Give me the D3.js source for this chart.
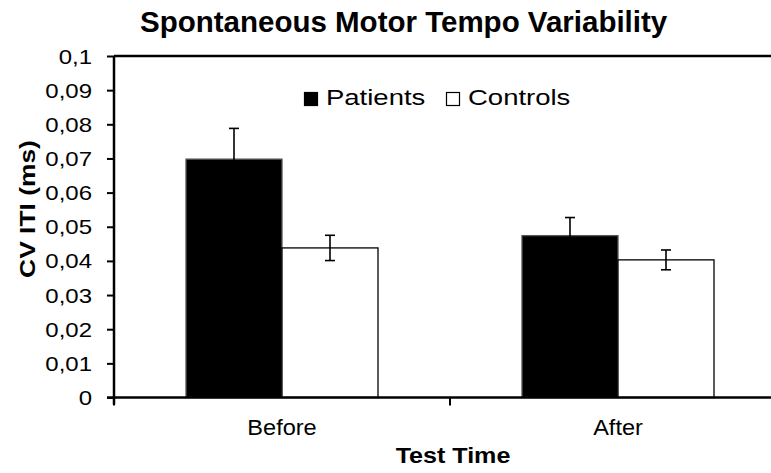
<!DOCTYPE html>
<html>
<head>
<meta charset="utf-8">
<script src="https://cdn.jsdelivr.net/npm/d3@7"></script>
<style>
  body { margin: 0; background: #fff; }
  svg { display: block; font-family: "Liberation Sans", Arial, sans-serif; }
</style>
</head>
<body>
<svg id="chart" width="771" height="473"></svg>
<script>
var categories = ["Before", "After"];
var seriesNames = ["Patients", "Controls"];
var patients = [0.0698, 0.0474];
var patientsErr = [0.0090, 0.0053];
var controls = [0.0438, 0.0403];
var controlsErr = [0.0037, 0.0029];
var yTicks = [0, 0.01, 0.02, 0.03, 0.04, 0.05, 0.06, 0.07, 0.08, 0.09, 0.1];

var svg = d3.select("#chart");
var margin = {top: 56, left: 114};
var plotW = 672, plotH = 341.5;

var x = d3.scaleBand()
    .domain(categories)
    .range([margin.left, margin.left + plotW]);

var xInner = d3.scaleBand()
    .domain(seriesNames)
    .range([0, x.bandwidth()])
    .paddingOuter(0.75);

var y = d3.scaleLinear()
    .domain([0, 0.1])
    .range([margin.top + plotH, margin.top]);

var rows = categories.map(function(c, i) {
    return {
        cat: c,
        vals: [
            {name: "Patients", v: patients[i], e: patientsErr[i]},
            {name: "Controls", v: controls[i], e: controlsErr[i]}
        ]
    };
});

// text drawn a little wider than the font, like the picture
function stretchText(g, tx, ty, s, anchor, size, sx, weight, rot) {
    return g.append("text")
        .attr("transform", "translate(" + tx + "," + ty + ")" + (rot ? " rotate(" + rot + ")" : "") + " scale(" + sx + ",1)")
        .attr("text-anchor", anchor)
        .attr("font-size", size)
        .attr("font-weight", weight || "normal")
        .attr("fill", "#000")
        .text(s);
}

// top frame line
svg.append("line")
    .attr("x1", margin.left).attr("x2", margin.left + plotW)
    .attr("y1", y(0.1)).attr("y2", y(0.1))
    .attr("stroke", "#000").attr("stroke-width", 2.5);

// bars
var groups = svg.selectAll(".grp")
    .data(rows)
    .enter().append("g")
    .attr("transform", function(d) { return "translate(" + x(d.cat) + ",0)"; });

groups.selectAll("rect")
    .data(function(d) { return d.vals; })
    .enter().append("rect")
    .attr("x", function(d) { return xInner(d.name); })
    .attr("width", xInner.bandwidth())
    .attr("y", function(d) { return y(d.v); })
    .attr("height", function(d) { return y(0) - y(d.v); })
    .attr("fill", function(d) { return d.name === "Patients" ? "#000" : "#fff"; })
    .attr("stroke", function(d) { return d.name === "Patients" ? "#555" : "#000"; })
    .attr("stroke-width", 1.3);

// error bars
var eb = groups.selectAll(".eb")
    .data(function(d) { return d.vals; })
    .enter().append("g")
    .attr("stroke", "#000")
    .attr("stroke-width", 1.6);

function cx(d) { return xInner(d.name) + xInner.bandwidth() / 2; }

eb.append("line")
    .attr("x1", cx).attr("x2", cx)
    .attr("y1", function(d) { return y(d.v - d.e); })
    .attr("y2", function(d) { return y(d.v + d.e); });

eb.append("line")
    .attr("x1", function(d) { return cx(d) - 5; })
    .attr("x2", function(d) { return cx(d) + 5; })
    .attr("y1", function(d) { return y(d.v + d.e); })
    .attr("y2", function(d) { return y(d.v + d.e); });

eb.append("line")
    .attr("x1", function(d) { return cx(d) - 5; })
    .attr("x2", function(d) { return cx(d) + 5; })
    .attr("y1", function(d) { return y(d.v - d.e); })
    .attr("y2", function(d) { return y(d.v - d.e); });

// y axis
var yAxis = d3.axisLeft(y)
    .tickValues(yTicks)
    .tickSize(7)
    .tickFormat(function() { return ""; });

var gy = svg.append("g")
    .attr("transform", "translate(" + margin.left + ",0)")
    .call(yAxis);
gy.select(".domain").attr("stroke-width", 2.5).attr("d", "M0," + (y(0) + 7) + "V" + y(0.1));
gy.selectAll(".tick line").attr("stroke-width", 2);

yTicks.forEach(function(t) {
    stretchText(svg, 92, y(t) + 7.5, String(t).replace(".", ","), "end", 20, 1.2);
});

// x axis
var boundaries = [margin.left, margin.left + x.bandwidth(), margin.left + plotW];
svg.append("line")
    .attr("x1", margin.left - 7).attr("x2", margin.left + plotW)
    .attr("y1", y(0)).attr("y2", y(0))
    .attr("stroke", "#000").attr("stroke-width", 2.5);
svg.selectAll(".xtick")
    .data(boundaries)
    .enter().append("line")
    .attr("x1", function(d) { return d; })
    .attr("x2", function(d) { return d; })
    .attr("y1", y(0))
    .attr("y2", y(0) + 8)
    .attr("stroke", "#000").attr("stroke-width", 2);

categories.forEach(function(c) {
    stretchText(svg, x(c) + x.bandwidth() / 2, 435, c, "middle", 22, 1.07);
});

// titles
stretchText(svg, 140, 32, "Spontaneous Motor Tempo Variability", "start", 29.5, 1.0, "bold");
stretchText(svg, 453, 463, "Test Time", "middle", 22, 1.14, "bold");
stretchText(svg, 35, 209, "CV ITI (ms)", "middle", 22, 1.2, "bold", -90);

// legend
var legend = [
    {name: "Patients", fill: "#000", x: 304},
    {name: "Controls", fill: "#fff", x: 446}
];
legend.forEach(function(d) {
    svg.append("rect")
        .attr("x", d.x + 0.5).attr("y", 92.5)
        .attr("width", 13).attr("height", 13)
        .attr("fill", d.fill).attr("stroke", "#000").attr("stroke-width", 1.2);
    stretchText(svg, d.x + 22, 105, d.name, "start", 22, 1.25);
});
</script>
</body>
</html>
